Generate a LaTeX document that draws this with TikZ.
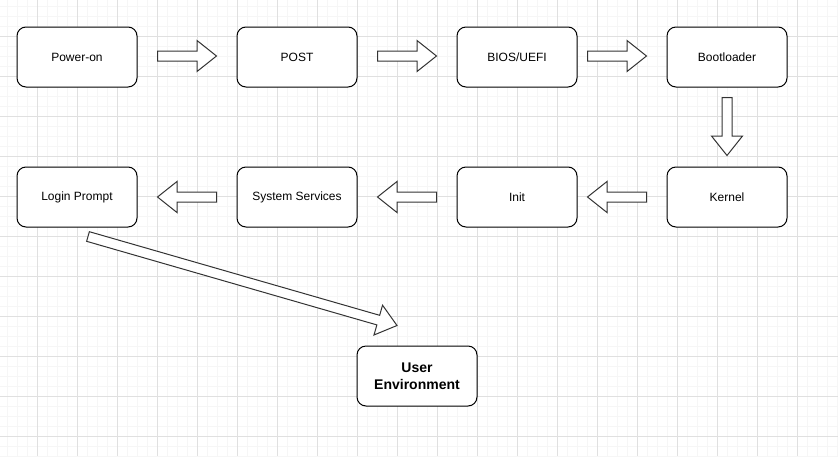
\documentclass[tikz,border=0pt]{standalone}
\usepackage{fontspec}
\setmainfont{Liberation Sans}
\usetikzlibrary{calc}
\definecolor{gridminor}{HTML}{F6F6F6}
\definecolor{gridmajor}{HTML}{E0E0E0}
\tikzset{
  box/.style={draw=black, line width=1pt, fill=white, rounded corners=9pt,
    minimum width=120pt, minimum height=60pt, inner sep=0pt, align=center,
    font=\fontsize{12}{14}\selectfont},
  bigbox/.style={box, font=\fontsize{14}{16.5}\selectfont\bfseries},
  barrow/.style={draw=black!80, line width=1pt, fill=white, line join=miter},
  gridminorline/.style={draw=gridminor, line width=0.7pt},
  gridmajorline/.style={draw=gridmajor, line width=0.7pt}
}
\newcommand\blockarrow[2]{%
  \coordinate (#1-#2-h) at ($(#2)!19.5pt!(#1)$);
  \draw[barrow] ($(#1)!5pt!90:(#2)$) -- ($(#1-#2-h)!5pt!-90:(#1)$)
    -- ($(#1-#2-h)!15.5pt!-90:(#1)$) -- (#2)
    -- ($(#1-#2-h)!15.5pt!90:(#1)$) -- ($(#1-#2-h)!5pt!90:(#1)$)
    -- ($(#1)!5pt!-90:(#2)$) -- cycle;}
\begin{document}
\begin{tikzpicture}[x=1pt,y=-1pt]
\useasboundingbox (0,0) rectangle (838,456);
\fill[white] (0,0) rectangle (838,456);
% grid
\foreach \x in {7,17,...,837} \draw[gridminorline] (\x,0) -- (\x,456);
\foreach \y in {6,16,...,456} \draw[gridminorline] (0,\y) -- (838,\y);
\foreach \x in {37,77,...,797} \draw[gridmajorline] (\x,0) -- (\x,456);
\foreach \y in {36,76,...,436} \draw[gridmajorline] (0,\y) -- (838,\y);
% nodes
\node[box] (power) at (77,57) {Power-on};
\node[box] (post) at (297,57) {POST};
\node[box] (bios) at (517,57) {BIOS/UEFI};
\node[box] (boot) at (727,57) {Bootloader};
\node[box] (login) at (77,197) {Login Prompt};
\node[box] (serv) at (297,197) {System Services};
\node[box] (init) at (517,197) {Init};
\node[box] (kernel) at (727,197) {Kernel};
\node[bigbox] (user) at (417,376) {User\\Environment};
% arrow end points
\coordinate (a1s) at ($(power.east)+(20,-1)$);
\coordinate (a1e) at ($(post.west)+(-20,-1)$);
\coordinate (a2s) at ($(post.east)+(20,-1)$);
\coordinate (a2e) at ($(bios.west)+(-20,-1)$);
\coordinate (a3s) at ($(bios.east)+(10,-1)$);
\coordinate (a3e) at ($(boot.west)+(-20,-1)$);
\coordinate (a4s) at ($(boot.south)+(0,10)$);
\coordinate (a4e) at ($(kernel.north)+(0,-11)$);
\coordinate (a5s) at ($(kernel.west)+(-20,0)$);
\coordinate (a5e) at ($(init.east)+(10,0)$);
\coordinate (a6s) at ($(init.west)+(-20,0)$);
\coordinate (a6e) at ($(serv.east)+(20,0)$);
\coordinate (a7s) at ($(serv.west)+(-20,0)$);
\coordinate (a7e) at ($(login.east)+(20,0)$);
\coordinate (a8s) at ($(login.south)+(11,9)$);
\coordinate (a8e) at ($(user.north)+(-20,-20)$);
\blockarrow{a1s}{a1e}
\blockarrow{a2s}{a2e}
\blockarrow{a3s}{a3e}
\blockarrow{a4s}{a4e}
\blockarrow{a5s}{a5e}
\blockarrow{a6s}{a6e}
\blockarrow{a7s}{a7e}
\blockarrow{a8s}{a8e}
\end{tikzpicture}
\end{document}
